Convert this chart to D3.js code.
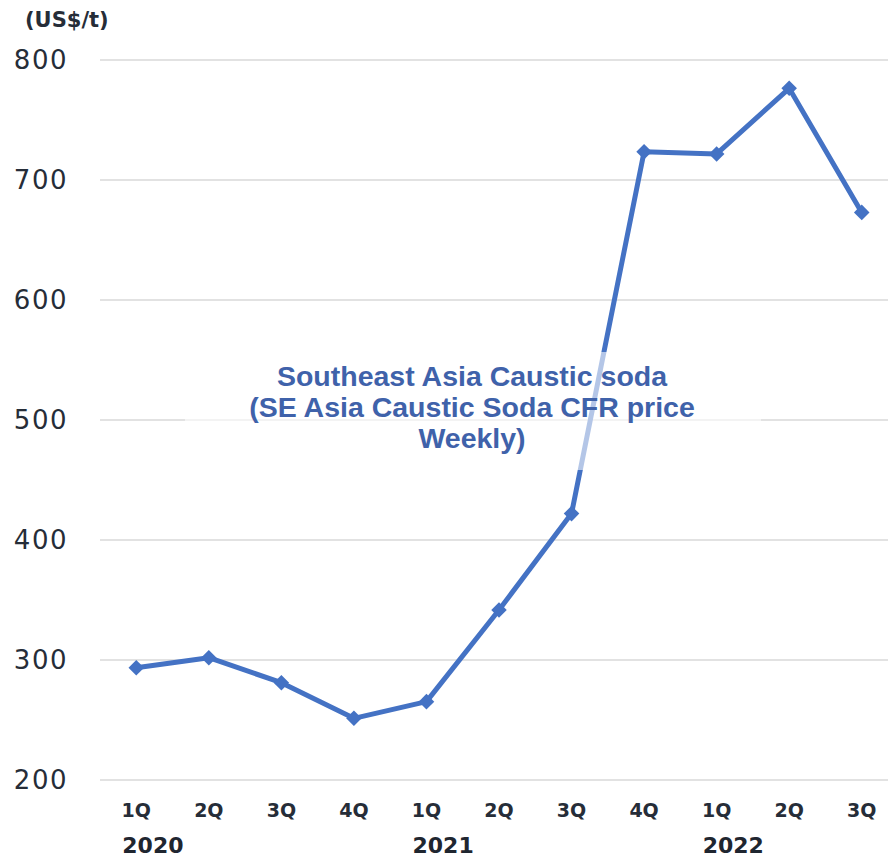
<!DOCTYPE html>
<html>
<head>
<meta charset="utf-8">
<script src="https://cdn.jsdelivr.net/npm/d3@7"></script>
<style>
  body { margin: 0; background: white; }
</style>
</head>
<body>
<div id="chart"></div>
<script>
let W = 888
let H = 859

// data
let quarters = ["1Q", "2Q", "3Q", "4Q", "1Q", "2Q", "3Q", "4Q", "1Q", "2Q", "3Q"]
let years = ["2020", "2021", "2022"]
let yearStart = [0, 4, 8]          // index of the 1Q of each year
let prices = [293.6, 301.9, 281.1, 251.4, 265.3, 341.7, 422, 723.6, 721.7, 776.4, 673]
let yTicks = [200, 300, 400, 500, 600, 700, 800]
let unitLabel = "(US$/t)"
let seriesLabel = ["Southeast Asia Caustic soda", "(SE Asia Caustic Soda CFR price", "Weekly)"]

let svg = d3.select("#chart").append("svg")
    .attr("width", W)
    .attr("height", H)
    .style("font-family", "'DejaVu Sans', Verdana, sans-serif")

let x = d3.scaleBand()
    .domain(d3.range(quarters.length))
    .range([100, 898])

let y = d3.scaleLinear()
    .domain([200, 800])
    .range([780, 60])

let cx = i => x(i) + x.bandwidth() / 2

// 格線
svg.append("g")
    .selectAll("line")
    .data(yTicks)
    .join("line")
    .attr("x1", 100)
    .attr("x2", W)
    .attr("y1", d => y(d))
    .attr("y2", d => y(d))
    .attr("stroke", "#d9d9d9")
    .attr("stroke-width", 1.5)

// y axis labels
svg.append("g")
    .selectAll("text")
    .data(yTicks)
    .join("text")
    .attr("x", 68)
    .attr("y", d => y(d) + 9)
    .attr("text-anchor", "end")
    .attr("font-size", 26)
    .attr("letter-spacing", 1.5)
    .attr("fill", "#262d38")
    .text(d => d)

svg.append("text")
    .attr("x", 25)
    .attr("y", 27)
    .attr("font-size", 21)
    .attr("font-weight", "bold")
    .attr("fill", "#262d38")
    .text(unitLabel)

// x axis labels
svg.append("g")
    .selectAll("text")
    .data(quarters)
    .join("text")
    .attr("x", (d, i) => cx(i))
    .attr("y", 817)
    .attr("text-anchor", "middle")
    .attr("font-size", 19)
    .attr("font-weight", "bold")
    .attr("fill", "#262d38")
    .text(d => d)

svg.append("g")
    .selectAll("text")
    .data(years)
    .join("text")
    .attr("x", (d, i) => cx(yearStart[i]) - 14)
    .attr("y", 853)
    .attr("font-size", 22)
    .attr("font-weight", "bold")
    .attr("fill", "#1f2630")
    .text(d => d)

// line
let line = d3.line()
    .x((d, i) => cx(i))
    .y(d => y(d))

svg.append("path")
    .datum(prices)
    .attr("d", line)
    .attr("fill", "none")
    .attr("stroke", "#4472c4")
    .attr("stroke-width", 5)
    .attr("stroke-linejoin", "round")

svg.append("g")
    .selectAll("path")
    .data(prices)
    .join("path")
    .attr("transform", (d, i) => `translate(${cx(i)},${y(d)}) rotate(45)`)
    .attr("d", "M-5.5,-5.5H5.5V5.5H-5.5Z")
    .attr("fill", "#4472c4")

// series label box (semi-transparent white, over the line)
svg.append("rect")
    .attr("x", 185)
    .attr("y", 352)
    .attr("width", 576)
    .attr("height", 118)
    .attr("fill", "white")
    .attr("opacity", 0.6)

svg.append("g")
    .selectAll("text")
    .data(seriesLabel)
    .join("text")
    .attr("x", 472)
    .attr("y", (d, i) => 386 + i * 31)
    .attr("text-anchor", "middle")
    .attr("font-family", "'Liberation Sans', Arial, sans-serif")
    .attr("font-size", 28.5)
    .attr("font-weight", "bold")
    .attr("fill", "#3f62aa")
    .text(d => d)
</script>
</body>
</html>
